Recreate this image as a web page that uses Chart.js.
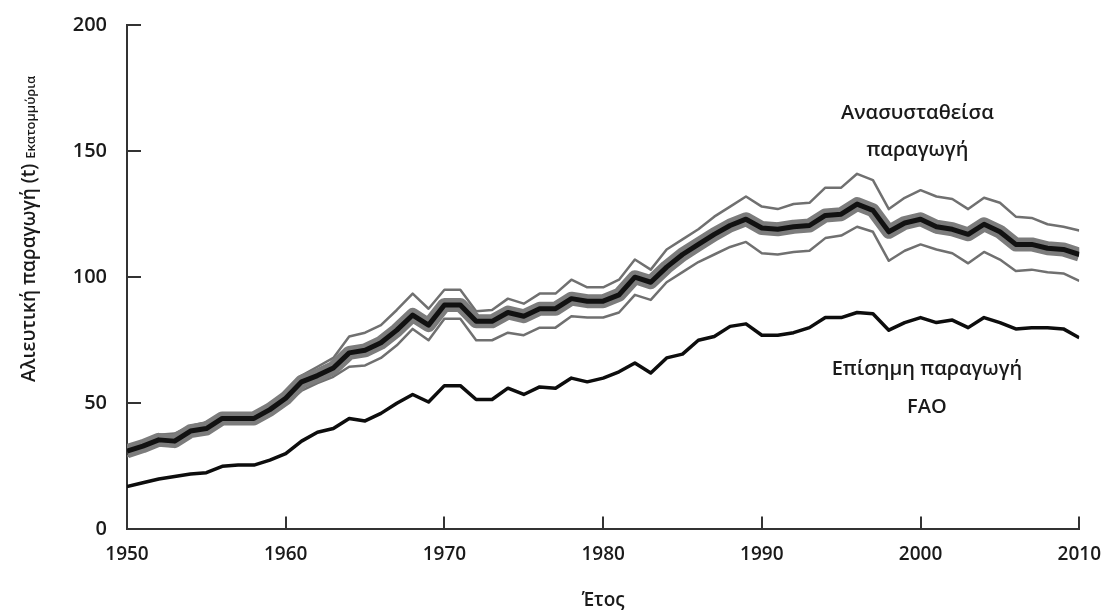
<!DOCTYPE html>
<html>
<head>
<meta charset="utf-8">
<script src="https://cdn.jsdelivr.net/npm/chart.js@4.4.1/dist/chart.umd.min.js"></script>
<style>
  html, body { margin: 0; padding: 0; background: #ffffff; }
  #wrap { width: 1115px; height: 615px; position: relative; }
</style>
</head>
<body>
<div id="wrap"><canvas id="c" width="1115" height="615"></canvas></div>
<script>
const years = [1950,1951,1952,1953,1954,1955,1956,1957,1958,1959,
  1960,1961,1962,1963,1964,1965,1966,1967,1968,1969,
  1970,1971,1972,1973,1974,1975,1976,1977,1978,1979,
  1980,1981,1982,1983,1984,1985,1986,1987,1988,1989,
  1990,1991,1992,1993,1994,1995,1996,1997,1998,1999,
  2000,2001,2002,2003,2004,2005,2006,2007,2008,2009,2010];

const reconstructed = [31,33,35.5,35,39,40,44,44,44,47.5,
  52,58.5,61,64,70,71,74,79,85,81,
  89,89,82.5,82.5,86,84.5,87.5,87.5,91.5,90.5,
  90.5,93,100,98,104,109,113,117,120.5,123,
  119.5,119,120,120.5,124.5,125,129,126.5,118,121.5,
  123,120,119,117,121,118,113,113,111.5,111,109];

const reconstructedUpper = [33,35,37.5,38,41,42.5,46,46,46,49.5,
  54,61,64.5,68,76.5,78,81,87,93.5,87.5,
  95,95,86.5,87,91.5,89.5,93.5,93.5,99,96,
  96,99,107,103,111,115,119,124,128,132,
  128,127,129,129.5,135.5,135.5,141,138.5,127,131.5,
  134.5,132,131,127,131.5,129.5,124,123.5,121,120,118.5];

const reconstructedLower = [29,31,33.5,33,37,38,42,42,42,45.5,
  50,55,58,60.5,64.5,65,68,73,79.5,75,
  83.5,83.5,75,75,78,77,80,80,84.5,84,
  84,86,93,91,98,102,106,109,112,114,
  109.5,109,110,110.5,115.5,116.5,120,118,106.5,110.5,
  113,111,109.5,105.5,110,107,102.5,103,102,101.5,98.5];

const faoOfficial = [17,18.5,20,21,22,22.5,25,25.5,25.5,27.5,
  30,35,38.5,40,44,43,46,50,53.5,50.5,
  57,57,51.5,51.5,56,53.5,56.5,56,60,58.5,
  60,62.5,66,62,68,69.5,75,76.5,80.5,81.5,
  77,77,78,80,84,84,86,85.5,79,82,
  84,82,83,80,84,82,79.5,80,80,79.5,76];

const xTicks = [1950,1960,1970,1980,1990,2000,2010];
const yTicks = [0,50,100,150,200];

const FONT = "'Open Sans', 'DejaVu Sans', sans-serif";
const TEXT = '#1a1a1a';

function pts(arr) { return years.map((y, i) => ({ x: y, y: arr[i] })); }

const tickMarks = {
  id: 'tickMarks',
  afterDatasetsDraw(chart) {
    const ctx = chart.ctx;
    const xs = chart.scales.x, ys = chart.scales.y;
    const a = chart.chartArea;
    ctx.save();
    ctx.strokeStyle = '#333';
    ctx.lineWidth = 2;
    ctx.beginPath();
    yTicks.forEach(v => {
      const py = Math.round(ys.getPixelForValue(v));
      ctx.moveTo(a.left, py); ctx.lineTo(a.left + 14, py);
    });
    xTicks.forEach(v => {
      const px = Math.round(xs.getPixelForValue(v));
      ctx.moveTo(px, a.bottom); ctx.lineTo(px, a.bottom - 13);
    });
    ctx.stroke();
    ctx.restore();
  }
};

const annotations = {
  id: 'annotations',
  afterDraw(chart) {
    const ctx = chart.ctx;
    const xs = chart.scales.x, ys = chart.scales.y;
    ctx.save();
    ctx.fillStyle = TEXT;
    ctx.textAlign = 'center';
    ctx.textBaseline = 'middle';
    ctx.font = '600 20px ' + FONT;
    const ax = xs.getPixelForValue(1999.8);
    ctx.fillText('Ανασυσταθείσα', ax, ys.getPixelForValue(165));
    ctx.fillText('παραγωγή', ax, ys.getPixelForValue(150.5));
    const bx = xs.getPixelForValue(2000.4);
    ctx.fillText('Επίσημη παραγωγή', bx, ys.getPixelForValue(63.5));
    ctx.fillText('FAO', bx, ys.getPixelForValue(48.5));

    // rotated y-axis title with small unit text
    const main = 'Αλιευτική παραγωγή (t) ';
    const unit = 'Εκατομμύρια';
    ctx.translate(30, 382);
    ctx.rotate(-Math.PI / 2);
    ctx.textAlign = 'left';
    ctx.textBaseline = 'middle';
    ctx.font = '600 19px ' + FONT;
    ctx.fillText(main, 0, 0);
    const w = ctx.measureText(main).width;
    ctx.font = '600 13px ' + FONT;
    ctx.fillText(unit, w, 1);
    ctx.restore();
  }
};

new Chart(document.getElementById('c'), {
  type: 'line',
  data: {
    datasets: [
      { label: 'Επίσημη παραγωγή FAO', data: pts(faoOfficial), borderColor: '#0d0d0d',
        borderWidth: 3.5, pointRadius: 0, order: 0, borderJoinStyle: 'round' },
      { label: 'Ανασυσταθείσα παραγωγή', data: pts(reconstructed), borderColor: '#111111',
        borderWidth: 5, pointRadius: 0, order: 0, borderJoinStyle: 'round' },
      { label: 'band', data: pts(reconstructed), borderColor: '#7c7c7c',
        borderWidth: 14, pointRadius: 0, order: 1, borderJoinStyle: 'round' },
      { label: 'upper', data: pts(reconstructedUpper), borderColor: '#707070',
        borderWidth: 2.5, pointRadius: 0, order: 2, borderJoinStyle: 'round' },
      { label: 'lower', data: pts(reconstructedLower), borderColor: '#707070',
        borderWidth: 2.5, pointRadius: 0, order: 2, borderJoinStyle: 'round' }
    ]
  },
  options: {
    responsive: false,
    animation: false,
    events: [],
    layout: { padding: { top: 25, right: 32, left: 0, bottom: 3 } },
    plugins: { legend: { display: false }, tooltip: { enabled: false } },
    scales: {
      x: {
        type: 'linear', min: 1950, max: 2010,
        afterBuildTicks: s => { s.ticks = xTicks.map(v => ({ value: v })); },
        grid: { display: true, drawOnChartArea: false, drawTicks: false },
        border: { display: true, color: '#333', width: 2 },
        ticks: { padding: 14, color: TEXT, font: { family: FONT, size: 19, weight: '600' },
                 callback: v => String(v), maxRotation: 0 },
        title: { display: true, text: 'Έτος', color: TEXT,
                 font: { family: FONT, size: 19, weight: '600' }, padding: { top: 9, bottom: 0 } }
      },
      y: {
        type: 'linear', min: 0, max: 200,
        afterBuildTicks: s => { s.ticks = yTicks.map(v => ({ value: v })); },
        afterFit: s => { s.width = 127; s.paddingTop = 0; s.paddingBottom = 0; },
        grid: { display: true, drawOnChartArea: false, drawTicks: false },
        border: { display: true, color: '#333', width: 2 },
        ticks: { padding: 20, color: TEXT, font: { family: FONT, size: 20, weight: '600' } }
      }
    }
  },
  plugins: [tickMarks, annotations]
});
</script>
</body>
</html>
